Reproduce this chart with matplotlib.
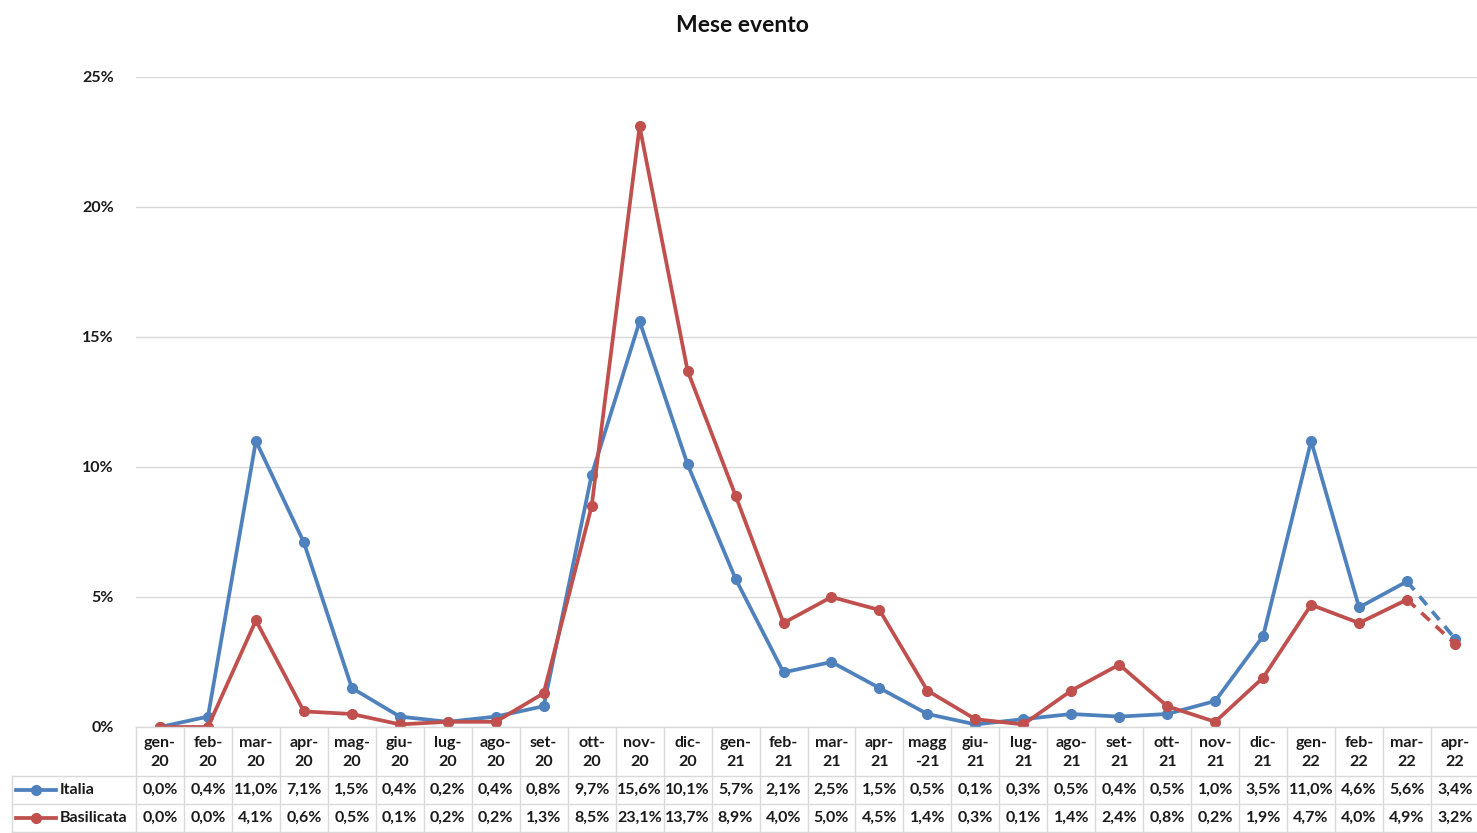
import matplotlib.pyplot as plt
import matplotlib.transforms as mtransforms
from matplotlib.lines import Line2D

# categories (mese evento)
mesi = ["gen-\n20", "feb-\n20", "mar-\n20", "apr-\n20", "mag-\n20", "giu-\n20", "lug-\n20",
        "ago-\n20", "set-\n20", "ott-\n20", "nov-\n20", "dic-\n20", "gen-\n21", "feb-\n21",
        "mar-\n21", "apr-\n21", "magg\n-21", "giu-\n21", "lug-\n21", "ago-\n21", "set-\n21",
        "ott-\n21", "nov-\n21", "dic-\n21", "gen-\n22", "feb-\n22", "mar-\n22", "apr-\n22"]

# percentuali
italia = [0.0, 0.4, 11.0, 7.1, 1.5, 0.4, 0.2, 0.4, 0.8, 9.7, 15.6, 10.1, 5.7, 2.1,
          2.5, 1.5, 0.5, 0.1, 0.3, 0.5, 0.4, 0.5, 1.0, 3.5, 11.0, 4.6, 5.6, 3.4]
basilicata = [0.0, 0.0, 4.1, 0.6, 0.5, 0.1, 0.2, 0.2, 1.3, 8.5, 23.1, 13.7, 8.9, 4.0,
              5.0, 4.5, 1.4, 0.3, 0.1, 1.4, 2.4, 0.8, 0.2, 1.9, 4.7, 4.0, 4.9, 3.2]

serie = [("Italia", italia, "#4f81bd"), ("Basilicata", basilicata, "#c0504d")]

plt.rcParams["font.family"] = ["Lato", "DejaVu Sans"]
FS = 11.5
TXT = "#1a1a1a"

W, H = 1477, 833
fig = plt.figure(figsize=(W / 100, H / 100), dpi=100)

def fy(py):
    # pixel row (from top) -> figure fraction
    return 1 - py / H

ax_left, ax_right = 136 / W, 1479 / W
ax_bot, ax_top = fy(727), fy(77)
ax = fig.add_axes([ax_left, ax_bot, ax_right - ax_left, ax_top - ax_bot])

x = list(range(len(mesi)))
for nome, vals, col in serie:
    ax.plot(x[:-1], vals[:-1], color=col, lw=2.7, marker="o", ms=7, zorder=3)
    ax.plot(x[-2:], vals[-2:], color=col, lw=2.7, ls=(0, (3, 2.2)), zorder=3)
    ax.plot(x[-1:], vals[-1:], color=col, marker="o", ms=7, ls="none", zorder=3)

ax.set_xlim(-0.5, len(mesi) - 0.5)
ax.set_ylim(0, 25)
ax.set_yticks([0, 5, 10, 15, 20, 25])
ax.set_yticklabels([f"{v}%" for v in [0, 5, 10, 15, 20, 25]], fontsize=FS,
                   fontweight="bold", color=TXT)
ax.tick_params(axis="y", length=0, pad=16)
ax.set_xticks([])
ax.grid(axis="y", color="#d9d9d9", lw=1)
ax.set_axisbelow(True)
for s in ["left", "right", "top", "bottom"]:
    ax.spines[s].set_visible(False)

fig.text(742 / W, fy(25), "Mese evento", ha="center", va="center",
         fontsize=16.5, fontweight="bold", color="#111111")

# data table below the chart
tr = mtransforms.blended_transform_factory(ax.transData, fig.transFigure)
grid_col = "#d9d9d9"
y_top, y_r1, y_r2, y_bot = 727, 776, 804, 833

for i in range(len(mesi) + 1):
    fig.add_artist(Line2D([i - 0.5, i - 0.5], [fy(y_top), fy(y_bot)], transform=tr,
                          color=grid_col, lw=1))
for py in [y_top, y_r1, y_r2, y_bot - 1]:
    x0 = 12 / W if py != y_top else ax_left
    fig.add_artist(Line2D([x0, 1], [fy(py), fy(py)], color=grid_col, lw=1))
fig.add_artist(Line2D([12 / W, 12 / W], [fy(y_r1), fy(y_bot)], color=grid_col, lw=1))

for i, m in enumerate(mesi):
    fig.text(i, fy((y_top + y_r1) / 2 + 1), m, transform=tr, ha="center", va="center",
             fontsize=FS, fontweight="bold", color=TXT, linespacing=1.4)

for (nome, vals, col), yc in zip(serie, [790, 818]):
    fig.add_artist(Line2D([16 / W, 56 / W], [fy(yc), fy(yc)], color=col, lw=2.7))
    fig.add_artist(Line2D([36 / W], [fy(yc)], color=col, marker="o", ms=7))
    fig.text(60 / W, fy(yc), nome, ha="left", va="center", fontsize=FS,
             fontweight="bold", color=TXT)
    for i, v in enumerate(vals):
        fig.text(i, fy(yc), f"{v:.1f}%".replace(".", ","), transform=tr, ha="center",
                 va="center", fontsize=FS, fontweight="bold", color=TXT)

fig.savefig("out.png", dpi=100)
